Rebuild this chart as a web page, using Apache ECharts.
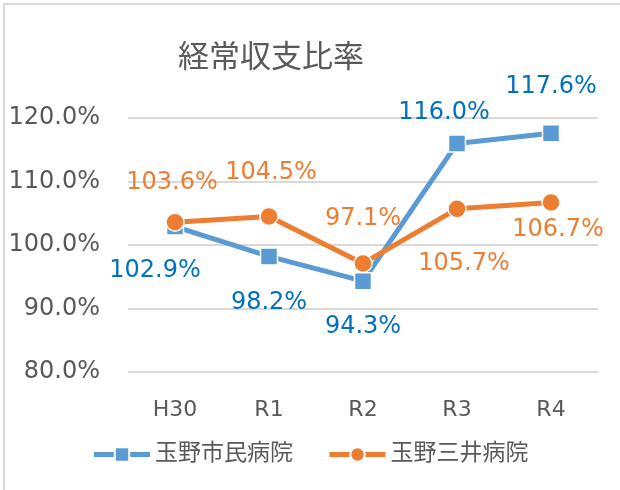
<!DOCTYPE html>
<html>
<head>
<meta charset="utf-8">
<script src="https://cdn.jsdelivr.net/npm/echarts@6/dist/echarts.min.js"></script>
<style>
  html, body { margin: 0; padding: 0; background: #fff; }
  #main { width: 620px; height: 490px; }
</style>
</head>
<body>
<div id="main"></div>
<script>
var years = ['H30', 'R1', 'R2', 'R3', 'R4'];
var shimin = [102.9, 98.2, 94.3, 116.0, 117.6];   // 玉野市民病院
var mitsui = [103.6, 104.5, 97.1, 105.7, 106.7];  // 玉野三井病院
var yTicks = [80, 90, 100, 110, 120];

// label offsets (label centre relative to the marker)
var shiminOff = [[-20, 44], [0, 46], [0, 46], [-13, -31], [0, -46]];
var mitsuiOff = [[-3, -39], [2, -44], [0, -45], [7, 55], [7, 27]];

var font = '"DejaVu Sans", "Noto Sans CJK JP", sans-serif';
var grey = '#595959';

function withLabels(vals, offs) {
  return vals.map(function (v, i) {
    return { value: v, label: { offset: offs[i] } };
  });
}

var myChart = echarts.init(document.getElementById('main'));

var option = {
  animation: false,
  backgroundColor: '#fff',
  title: {
    text: '経常収支比率',
    left: 266,
    textAlign: 'center',
    top: 38,
    textStyle: { fontFamily: font, fontSize: 31, fontWeight: 'normal', color: grey }
  },
  graphic: [{
    type: 'rect',
    shape: { x: 4, y: 4, width: 700, height: 700 },
    style: { fill: 'none', stroke: '#d9d9d9', lineWidth: 2 },
    silent: true
  }],
  legend: {
    bottom: 19,
    left: 'center',
    itemWidth: 56,
    itemHeight: 18,
    itemGap: 34,
    lineStyle: { width: 5 },
    textStyle: { fontFamily: font, fontSize: 23, color: grey },
    data: ['玉野市民病院', '玉野三井病院']
  },
  grid: { left: 128, right: 22, top: 118, bottom: 118 },
  xAxis: {
    type: 'category',
    data: years,
    axisLine: { show: false },
    axisTick: { show: false },
    axisLabel: { fontFamily: font, fontSize: 22, color: grey, margin: 27 }
  },
  yAxis: {
    type: 'value',
    min: yTicks[0],
    max: yTicks[yTicks.length - 1],
    interval: 10,
    axisLine: { show: false },
    axisTick: { show: false },
    splitLine: { lineStyle: { color: '#d9d9d9', width: 2 } },
    axisLabel: {
      fontFamily: font, fontSize: 24, color: grey, margin: 28,
      formatter: function (v) { return v.toFixed(1) + '%'; }
    }
  },
  series: [{
    name: '玉野市民病院',
    type: 'line',
    data: withLabels(shimin, shiminOff),
    symbol: 'rect',
    symbolSize: 17,
    lineStyle: { color: '#5B9BD5', width: 5 },
    itemStyle: { color: '#5B9BD5', borderColor: '#fff', borderWidth: 1.5 },
    label: {
      show: true, position: 'inside', fontFamily: font, fontSize: 24, color: '#0070C0',
      formatter: function (p) { return p.value.toFixed(1) + '%'; }
    }
  }, {
    name: '玉野三井病院',
    type: 'line',
    data: withLabels(mitsui, mitsuiOff),
    symbol: 'circle',
    symbolSize: 18,
    lineStyle: { color: '#ED7D31', width: 5 },
    itemStyle: { color: '#ED7D31', borderColor: '#fff', borderWidth: 1.5 },
    label: {
      show: true, position: 'inside', fontFamily: font, fontSize: 24, color: '#ED7D31',
      formatter: function (p) { return p.value.toFixed(1) + '%'; }
    }
  }]
};

myChart.setOption(option);
</script>
</body>
</html>
